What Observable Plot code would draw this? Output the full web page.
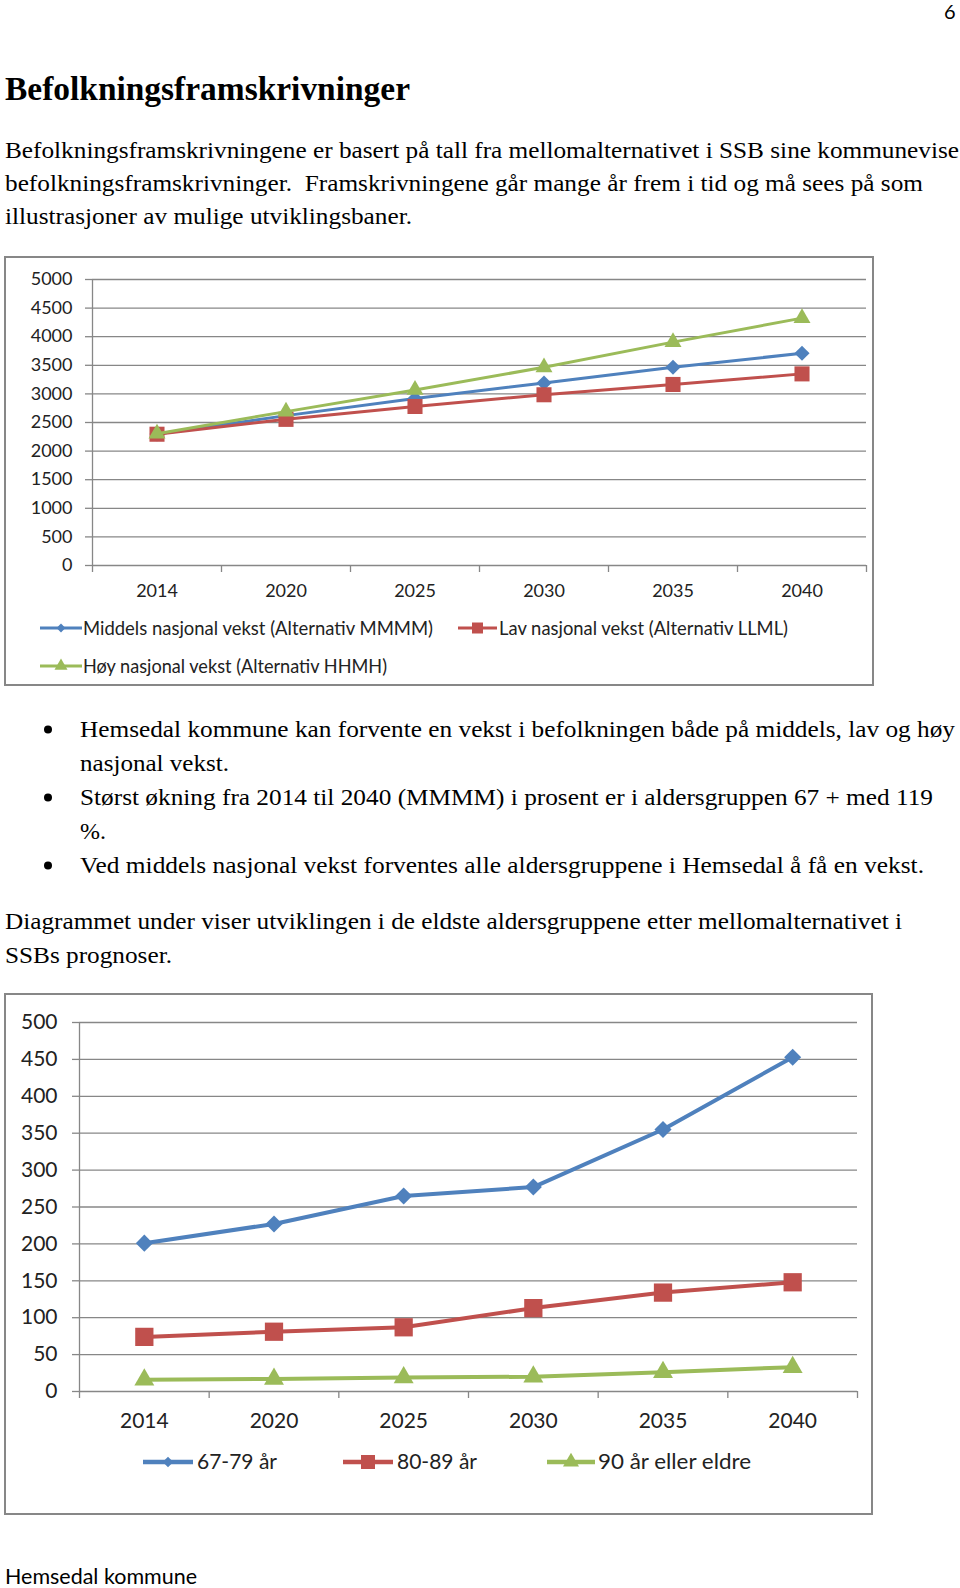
<!DOCTYPE html>
<html><head><meta charset="utf-8">
<script src="https://cdn.jsdelivr.net/npm/d3@7"></script>
<script src="https://cdn.jsdelivr.net/npm/@observablehq/plot@0.6"></script>
<style>
html,body{margin:0;padding:0;background:#fff}
body{width:960px;height:1588px;position:relative;overflow:hidden}
.abs{position:absolute}
</style></head><body>
<script>
// ---- data ----
const years = ["2014", "2020", "2025", "2030", "2035", "2040"];

const series1 = ["Middels nasjonal vekst (Alternativ MMMM)", "Lav nasjonal vekst (Alternativ LLML)", "Høy nasjonal vekst (Alternativ HHMH)"];
const middels = [2300, 2620, 2920, 3190, 3465, 3710];
const lav = [2295, 2555, 2780, 2985, 3165, 3350];
const hoy = [2305, 2690, 3070, 3465, 3905, 4325];
const yTicks1 = [0, 500, 1000, 1500, 2000, 2500, 3000, 3500, 4000, 4500, 5000];

const series2 = ["67-79 år", "80-89 år", "90 år eller eldre"];
const age6779 = [201, 227, 265, 277, 355, 453];
const age8089 = [74, 81, 87, 113, 134, 148];
const age90 = [16, 17, 19, 20, 26, 33];
const yTicks2 = [0, 50, 100, 150, 200, 250, 300, 350, 400, 450, 500];

const colors = ["#4F81BD", "#C0504D", "#9BBB59"];
const symbols = ["diamond2", "square", "triangle"];
const d3symbols = [d3.symbolDiamond2, d3.symbolSquare, d3.symbolTriangle];

// ---- page text ----
const SERIF = "'Liberation Serif', 'Times New Roman', serif";
const SANS = "Lato, sans-serif";
const page = d3.select("body").append("svg")
  .attr("class", "abs").style("left", "0px").style("top", "0px")
  .attr("width", 960).attr("height", 1588);

function T(s, x, y, size, fam, len, opts = {}) {
  const t = page.append("text")
    .attr("x", x).attr("y", y)
    .attr("font-size", size).attr("font-family", fam)
    .attr("fill", opts.fill || "#000")
    .style("white-space", "pre")
    .text(s);
  if (opts.bold) t.attr("font-weight", "bold");
  if (len) t.attr("textLength", len).attr("lengthAdjust", "spacingAndGlyphs");
  return t;
}

T("6", 944, 19, 20, SANS, null);
T("Befolkningsframskrivninger", 5, 100, 34, SERIF, 405, {bold: true});
T("Befolkningsframskrivningene er basert på tall fra mellomalternativet i SSB sine kommunevise", 5, 158, 24, SERIF, 954);
T("befolkningsframskrivninger.  Framskrivningene går mange år frem i tid og må sees på som", 5, 191, 24, SERIF, 918);
T("illustrasjoner av mulige utviklingsbaner.", 5, 224, 24, SERIF, 407);

const bullets = [
  ["Hemsedal kommune kan forvente en vekst i befolkningen både på middels, lav og høy", 737, 875, true],
  ["nasjonal vekst.", 771, 149, false],
  ["Størst økning fra 2014 til 2040 (MMMM) i prosent er i aldersgruppen 67 + med 119", 805, 853, true],
  ["%.", 839, 26, false],
  ["Ved middels nasjonal vekst forventes alle aldersgruppene i Hemsedal å få en vekst.", 873, 844, true]
];
bullets.forEach(([s, y, len, dot]) => {
  T(s, 80, y, 24, SERIF, len);
  if (dot) page.append("circle").attr("cx", 48).attr("cy", y - 7.5).attr("r", 4).attr("fill", "#000");
});
T("Diagrammet under viser utviklingen i de eldste aldersgruppene etter mellomalternativet i", 5, 929, 24, SERIF, 897);
T("SSBs prognoser.", 5, 963, 24, SERIF, 167);
T("Hemsedal kommune", 5, 1584, 21, SANS, 192);

// chart frames
page.append("rect").attr("x", 5).attr("y", 257).attr("width", 868).attr("height", 428)
  .attr("fill", "none").attr("stroke", "#878787").attr("stroke-width", 2);
page.append("rect").attr("x", 5).attr("y", 994).attr("width", 867).attr("height", 520)
  .attr("fill", "none").attr("stroke", "#878787").attr("stroke-width", 2);

// ---- charts ----
function drawChart(o) {
  const rows = o.names.flatMap((n, k) => o.values[k].map((v, i) => ({name: n, k, xi: i + 0.5, v})));
  const centers = years.map((_, i) => i + 0.5);
  const edges = d3.range(years.length + 1);
  const grid = "#878787";
  const ymax = o.yTicks[o.yTicks.length - 1];
  const p = Plot.plot({
    width: o.width, height: o.height,
    marginLeft: o.ml, marginRight: o.mr, marginTop: o.mt, marginBottom: o.mb,
    style: {fontFamily: "Lato", fontSize: o.fs + "px", color: "#222", background: "none", overflow: "visible"},
    x: {type: "linear", domain: [0, years.length]},
    y: {type: "linear", domain: [0, ymax]},
    marks: [
      Plot.ruleY(o.yTicks, {stroke: grid, strokeWidth: o.gw}),
      Plot.ruleX([0], {y1: 0, y2: ymax, stroke: grid, strokeWidth: o.gw}),
      Plot.axisY({ticks: o.yTicks, tickSize: 7, tickPadding: o.ypad, tickFormat: d => String(d), stroke: grid, strokeWidth: o.gw, fill: "#222", fontSize: o.fs, label: null}),
      Plot.axisX({ticks: edges, tickSize: 7, tickFormat: () => "", stroke: grid, strokeWidth: o.gw, label: null}),
      Plot.axisX({ticks: centers, tickSize: 0, tickPadding: o.xpad, tickFormat: d => years[Math.round(d - 0.5)], fill: "#222", fontSize: o.fs, label: null}),
      ...o.names.flatMap((n, k) => [
        Plot.line(rows.filter(r => r.k === k), {x: "xi", y: "v", stroke: colors[k], strokeWidth: o.lw}),
        Plot.dot(rows.filter(r => r.k === k), {x: "xi", y: "v", symbol: symbols[k], fill: colors[k], r: o.rs[k], stroke: "none"})
      ])
    ]
  });
  p.style.position = "absolute";
  p.style.left = o.left + "px";
  p.style.top = o.top + "px";
  document.body.appendChild(p);
}

drawChart({names: series1, values: [middels, lav, hoy], yTicks: yTicks1,
  left: 7, top: 259, width: 864, height: 340, ml: 85, mr: 5, mt: 20, mb: 34,
  fs: 18, ypad: 13, xpad: 19, lw: 3, rs: [6.8, 8.5, 6.3], gw: 1.3});

drawChart({names: series2, values: [age6779, age8089, age90], yTicks: yTicks2,
  left: 7, top: 996, width: 863, height: 440, ml: 72, mr: 13, mt: 26, mb: 45,
  fs: 21, ypad: 15, xpad: 22, lw: 4, rs: [7.7, 10.3, 7.4], gw: 1.3});

// ---- legends ----
function legendItem(name, k, x1, x2, y, tx, ty, fs, len, lw, areas) {
  page.append("line").attr("x1", x1).attr("x2", x2).attr("y1", y).attr("y2", y)
    .attr("stroke", colors[k]).attr("stroke-width", lw);
  page.append("path").attr("d", d3.symbol(d3symbols[k], areas[k])())
    .attr("transform", `translate(${(x1 + x2) / 2},${y})`).attr("fill", colors[k]);
  T(name, tx, ty, fs, SANS, len, {fill: "#222"});
}
const la1 = [50, 121, 73];
legendItem(series1[0], 0, 40, 82, 628, 83, 635, 19, 350, 3, la1);
legendItem(series1[1], 1, 458, 497, 628, 499, 635, 19, 289, 3, la1);
legendItem(series1[2], 2, 40, 82, 666, 83, 673, 19, 304, 3, la1);
const la2 = [72, 196, 111];
legendItem(series2[0], 0, 143, 193, 1462, 197, 1469, 21, 80, 4.5, la2);
legendItem(series2[1], 1, 343, 393, 1462, 397, 1469, 21, 80, 4.5, la2);
legendItem(series2[2], 2, 547, 595, 1462, 598, 1469, 21, 153, 4.5, la2);
</script>
</body></html>
